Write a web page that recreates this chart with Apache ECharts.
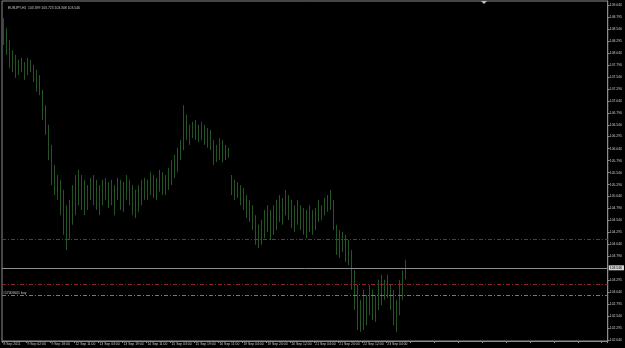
<!DOCTYPE html>
<html>
<head>
<meta charset="utf-8">
<script src="https://cdn.jsdelivr.net/npm/echarts@6/dist/echarts.min.js"></script>
<style>html,body{margin:0;padding:0;background:#000;}#c{width:625px;height:348px;}</style>
</head>
<body>
<div id="c"></div>
<script>
// Header / legend text
const headerText = 'EURJPY,H1  103.399 103.723 103.308 103.546';

// Time-axis tick labels (one every 8 slots of 2 hours)
const tickLabels = ['8 Sep 2011','9 Sep 02:00','9 Sep 18:00','12 Sep 11:00','13 Sep 03:00','13 Sep 19:00',
  '14 Sep 11:00','15 Sep 03:00','15 Sep 19:00','16 Sep 11:00','19 Sep 04:00','19 Sep 20:00',
  '20 Sep 12:00','21 Sep 04:00','21 Sep 20:00','22 Sep 12:00','23 Sep 04:00'];

// Price-axis tick labels
const priceTicks = [109.040,108.795,108.540,108.295,108.040,107.790,107.540,107.290,107.040,106.790,
  106.540,106.295,106.040,105.790,105.540,105.290,105.040,104.790,104.540,104.295,104.040,103.790,
  103.295,103.040,102.795,102.540,102.295,102.040];

// Bar highs and lows
const highs = [108.77,108.56,108.31,108.10,108.00,107.90,107.94,107.85,107.94,107.90,
107.79,107.69,107.58,107.27,106.95,106.54,106.12,105.70,105.49,105.39,
105.18,104.86,104.97,105.28,105.49,105.60,105.49,105.39,105.28,105.43,
105.49,105.39,105.28,105.39,105.43,105.34,105.39,105.28,105.43,105.39,
105.34,105.49,105.39,105.28,105.18,105.28,105.39,105.43,105.39,105.55,
105.49,105.43,105.60,105.55,105.49,105.64,105.80,105.91,106.06,106.22,
106.95,106.75,106.54,106.60,106.64,106.54,106.60,106.54,106.47,106.43,
106.22,106.12,106.26,106.22,106.12,106.06,105.49,105.39,105.34,105.28,
105.22,105.07,104.97,104.86,104.65,104.45,104.55,104.76,104.86,104.76,
104.86,104.97,105.07,105.01,105.18,105.07,104.97,104.86,104.97,104.86,
104.80,104.76,104.86,104.76,104.80,104.97,104.86,105.01,105.07,105.18,
104.97,104.45,104.34,104.30,104.24,104.13,103.92,103.50,103.19,102.88,
103.09,102.98,103.19,103.09,102.98,103.30,103.40,103.30,103.40,103.19,
103.09,102.88,103.30,103.50,103.72];
const lows = [108.21,108.00,107.73,107.64,107.52,107.58,107.64,107.48,107.58,107.64,
107.44,107.23,107.16,106.64,106.33,105.80,105.28,105.07,104.97,104.65,
104.24,103.92,104.13,104.45,104.65,104.86,104.76,104.65,104.76,104.97,
104.86,104.76,104.65,104.86,104.97,104.80,104.86,104.65,104.97,104.76,
104.72,104.97,104.86,104.65,104.59,104.72,104.86,104.97,104.97,105.07,
105.01,104.97,105.14,105.07,105.07,105.18,105.28,105.43,105.55,105.80,
106.01,106.22,106.12,106.26,106.22,106.18,106.22,106.12,106.06,106.01,
105.70,105.76,105.80,105.76,105.80,105.85,105.07,104.97,105.01,104.86,
104.76,104.59,104.51,104.34,104.03,103.96,104.03,104.17,104.30,104.13,
104.24,104.34,104.51,104.45,104.65,104.55,104.38,104.30,104.45,104.34,
104.24,104.17,104.30,104.24,104.34,104.51,104.55,104.65,104.72,104.76,
104.34,103.82,103.76,103.88,103.67,103.61,103.09,102.67,102.25,102.21,
102.25,102.35,102.56,102.46,102.42,102.67,102.77,102.88,102.92,102.67,
102.35,102.21,102.56,102.88,103.31];

// Horizontal levels
const redLevels = [104.144, 103.197];
const currentPrice = 103.546;
const orderLevel = 102.982;
const orderLabel = '#17009001 buy';

const slotCount = 202;
const categories = [];
for (let i = 0; i < slotCount; i++) categories.push('s' + i);

const bars = highs.map((h, i) => [lows[i], h, lows[i], h]);

const FONT = 'Liberation Sans';
const FS = 3.4;
const AX = '#8c8c8c';
const TXT = '#c8c8c8';
const GREEN = '#3c8f3e';
const RED = '#8e2424';

const chart = echarts.init(document.getElementById('c'), null, {renderer: 'canvas'});
chart.setOption({
  backgroundColor: '#000',
  animation: false,
  title: {
    text: headerText, left: 3, top: 2,
    textStyle: {color: TXT, fontSize: FS, fontWeight: 'normal', fontFamily: FONT}
  },
  grid: {left: 2, right: 16, top: 1, bottom: 7, show: true, borderColor: AX, borderWidth: 1, backgroundColor: 'transparent'},
  xAxis: {
    type: 'category', data: categories, boundaryGap: true,
    axisLine: {show: true, lineStyle: {color: AX, width: 1}},
    axisTick: {show: true, interval: 7, length: 2, lineStyle: {color: AX}},
    axisLabel: {
      interval: 7, color: TXT, fontSize: FS, fontFamily: FONT, align: 'left', margin: 1.5,
      formatter: (v, idx) => (idx % 8 === 0 && tickLabels[idx / 8]) ? tickLabels[idx / 8] : ''
    },
    splitLine: {show: false}
  },
  yAxis: {
    type: 'value', position: 'right', min: 102.02, max: 109.128, scale: true,
    axisLine: {show: true, lineStyle: {color: AX, width: 1}},
    axisTick: {show: true, length: 2, customValues: priceTicks, lineStyle: {color: AX}},
    axisLabel: {customValues: priceTicks, color: TXT, fontSize: FS, fontFamily: FONT, margin: 2,
      formatter: v => Number(v).toFixed(3)},
    splitLine: {show: false}
  },
  series: [{
    type: 'candlestick',
    data: bars,
    barWidth: 1,
    itemStyle: {color: GREEN, color0: GREEN, borderColor: GREEN, borderColor0: GREEN, borderWidth: 0.6},
    silent: true,
    markLine: {
      silent: true, symbol: 'none', animation: false,
      data: [
        {yAxis: redLevels[0], lineStyle: {color: RED, type: [4, 2, 1, 2], width: 1, opacity: 1}, label: {show: false}},
        {yAxis: redLevels[1], lineStyle: {color: RED, type: [4, 2, 1, 2], width: 1, opacity: 1}, label: {show: false}},
        {yAxis: orderLevel, lineStyle: {color: '#6f7c6f', type: [4, 2, 1, 2], width: 1, opacity: 1},
          label: {show: true, position: 'insideStartTop', formatter: orderLabel, color: TXT, fontSize: FS, fontFamily: FONT, distance: [1, 1]}},
        {yAxis: currentPrice, lineStyle: {color: AX, type: 'solid', width: 1, opacity: 1},
          label: {show: true, position: 'end', formatter: currentPrice.toFixed(3), color: '#000', backgroundColor: '#d4d4d4',
            fontSize: FS, fontFamily: FONT, padding: [1, 2, 1, 1], distance: 1}}
      ]
    }
  }],
  graphic: [{
    type: 'polygon', silent: true,
    shape: {points: [[481, 1], [487, 1], [484, 4]]},
    style: {fill: '#bdbdbd'}
  }]
});
</script>
</body>
</html>
